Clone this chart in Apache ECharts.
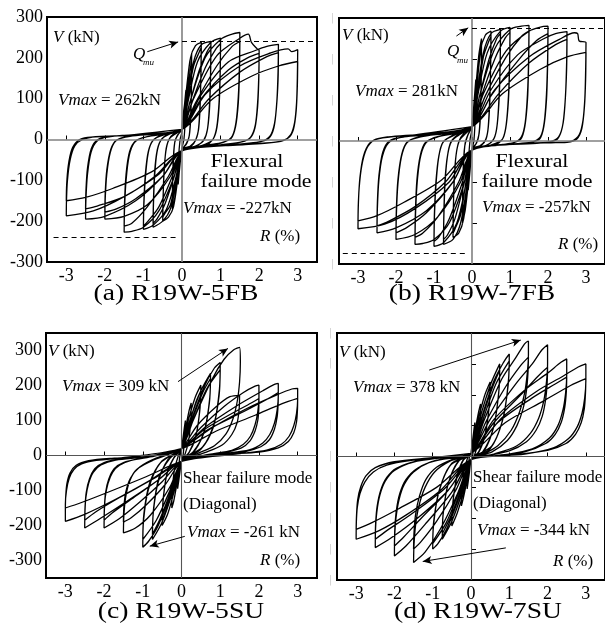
<!DOCTYPE html>
<html><head><meta charset="utf-8">
<script src="https://cdn.jsdelivr.net/npm/echarts@6/dist/echarts.min.js"></script>
<style>html,body{margin:0;padding:0;background:#fff}#c{width:605px;height:637px}</style>
</head><body><div id="c"></div>
<script>
// ---------- tick labels ----------
const rTicks = [-3,-2,-1,0,1,2,3];
const vTicks300 = [-300,-200,-100,0,100,200,300];
const vTicks400 = [-400,-300,-200,-100,0,100,200,300,400];
const captions = ['(a) R19W-5FB','(b) R19W-7FB','(c) R19W-5SU','(d) R19W-7SU'];
const peakA = [262,-227], peakB = [281,-257], peakC = [309,-261], peakD = [378,-344];
const qmuA = [240,-240], qmuB = [275,-274];

// ---------- hysteresis cycles: [R (%), V (kN)] ----------
const cyclesA = [
 [[0,20],[0.05,70],[0.1,120],[0.09,60],[0.05,0],[0,-20],[-0.05,-60],[-0.1,-110],[-0.09,-50],[-0.05,0],[0,20]],
 [[0,25],[0.1,110],[0.2,190],[0.25,210],[0.245,140],[0.23,60],[0.19,10],[0.12,-10],[0,-25],[-0.1,-90],[-0.2,-150],[-0.25,-170],[-0.245,-120],[-0.23,-55],[-0.19,-8],[-0.12,10],[0,25]],
 [[0,25],[0.12,100],[0.22,175],[0.25,195],[0.245,125],[0.22,50],[0.18,5],[0.1,-12],[0,-25],[-0.12,-85],[-0.22,-140],[-0.25,-160],[-0.245,-110],[-0.22,-45],[-0.18,-3],[-0.1,12],[0,25]],
 [[0,25],[0.1,100],[0.22,200],[0.35,230],[0.5,238],[0.49,160],[0.47,80],[0.43,25],[0.36,0],[0.25,-15],[0,-25],[-0.1,-90],[-0.22,-165],[-0.35,-190],[-0.5,-200],[-0.49,-150],[-0.47,-85],[-0.42,-30],[-0.34,0],[-0.2,15],[0,25]],
 [[0,25],[0.15,100],[0.3,180],[0.45,215],[0.5,225],[0.49,150],[0.46,70],[0.42,20],[0.34,-4],[0.2,-17],[0,-25],[-0.15,-90],[-0.3,-160],[-0.45,-182],[-0.5,-190],[-0.49,-140],[-0.46,-75],[-0.41,-22],[-0.32,3],[-0.15,15],[0,25]],
 [[0,25],[0.12,90],[0.3,190],[0.5,232],[0.75,240],[0.74,160],[0.71,80],[0.66,25],[0.57,0],[0.4,-15],[0,-27],[-0.12,-90],[-0.3,-170],[-0.5,-200],[-0.75,-215],[-0.74,-160],[-0.71,-90],[-0.65,-32],[-0.55,-2],[-0.35,13],[0,25]],
 [[0,25],[0.2,90],[0.45,170],[0.65,215],[0.75,230],[0.74,150],[0.71,70],[0.65,20],[0.55,-4],[0.35,-16],[0,-27],[-0.2,-90],[-0.45,-160],[-0.65,-195],[-0.75,-205],[-0.74,-150],[-0.71,-80],[-0.64,-25],[-0.52,2],[-0.3,14],[0,25]],
 [[0,25],[0.15,90],[0.4,190],[0.75,238],[1.0,248],[0.99,170],[0.96,90],[0.9,30],[0.8,0],[0.6,-15],[0,-28],[-0.15,-90],[-0.4,-170],[-0.75,-210],[-1.0,-220],[-0.99,-165],[-0.95,-95],[-0.88,-35],[-0.76,-3],[-0.5,12],[0,25]],
 [[0,25],[0.25,90],[0.6,175],[0.88,222],[1.0,235],[0.99,160],[0.96,80],[0.89,22],[0.77,-3],[0.5,-15],[0,-28],[-0.25,-90],[-0.6,-165],[-0.88,-200],[-1.0,-212],[-0.99,-155],[-0.95,-85],[-0.87,-28],[-0.73,0],[-0.45,12],[0,25]],
 [[0,25],[0.2,90],[0.6,200],[1.0,245],[1.3,258],[1.5,262],[1.49,185],[1.46,105],[1.4,42],[1.3,8],[1.1,-6],[0.7,-15],[0,-28],[-0.2,-90],[-0.6,-175],[-1.0,-215],[-1.3,-225],[-1.5,-227],[-1.49,-170],[-1.45,-100],[-1.37,-40],[-1.24,-8],[-1.0,5],[-0.5,14],[0,25]],
 [[0,25],[0.35,90],[0.9,180],[1.3,228],[1.5,240],[1.49,165],[1.46,90],[1.39,32],[1.27,2],[1.0,-8],[0.5,-16],[0,-28],[-0.35,-90],[-0.9,-165],[-1.3,-205],[-1.5,-212],[-1.49,-155],[-1.45,-85],[-1.36,-30],[-1.2,-3],[-0.9,7],[-0.4,14],[0,25]],
 [[0,25],[0.3,100],[0.9,205],[1.5,248],[1.72,258],[1.8,238],[1.95,222],[2.0,218],[1.99,155],[1.96,90],[1.9,35],[1.78,6],[1.55,-6],[1.0,-13],[0,-28],[-0.3,-90],[-0.9,-160],[-1.5,-188],[-2.0,-195],[-1.99,-145],[-1.95,-85],[-1.86,-32],[-1.72,-4],[-1.45,7],[-0.8,14],[0,25]],
 [[0,25],[0.5,100],[1.2,170],[1.7,200],[2.0,211],[1.99,145],[1.96,80],[1.89,28],[1.76,3],[1.5,-7],[1.0,-13],[0,-28],[-0.5,-90],[-1.2,-145],[-1.7,-170],[-2.0,-178],[-1.99,-130],[-1.95,-75],[-1.85,-25],[-1.7,-2],[-1.35,8],[-0.6,14],[0,25]],
 [[0,25],[0.5,110],[1.2,190],[1.9,218],[2.2,228],[2.5,233],[2.49,165],[2.46,95],[2.4,40],[2.28,8],[2.05,-5],[1.5,-12],[0,-28],[-0.5,-90],[-1.2,-150],[-2.0,-188],[-2.5,-195],[-2.49,-145],[-2.45,-85],[-2.36,-32],[-2.2,-4],[-1.9,7],[-1.0,13],[0,25]],
 [[0,25],[0.7,100],[1.5,165],[2.2,203],[2.5,213],[2.49,145],[2.45,80],[2.38,28],[2.25,3],[2.0,-6],[1.4,-12],[0,-28],[-0.7,-90],[-1.5,-140],[-2.2,-163],[-2.5,-170],[-2.49,-125],[-2.45,-70],[-2.35,-22],[-2.18,0],[-1.8,8],[-0.9,13],[0,25]],
 [[0,25],[0.6,110],[1.5,180],[2.3,212],[2.75,222],[2.85,215],[3.0,220],[2.99,150],[2.97,90],[2.92,42],[2.82,12],[2.62,-3],[2.2,-9],[1.5,-13],[0,-27],[-0.6,-85],[-1.5,-140],[-2.3,-175],[-3.0,-187],[-2.995,-150],[-2.97,-100],[-2.9,-50],[-2.78,-16],[-2.58,0],[-2.2,7],[-1.3,11],[0,25]],
 [[0,25],[0.8,100],[1.8,155],[2.5,180],[3.0,191],[2.99,130],[2.96,70],[2.89,25],[2.76,4],[2.5,-5],[1.8,-11],[0,-27],[-0.8,-80],[-1.8,-120],[-2.5,-142],[-3.0,-150],[-2.99,-110],[-2.95,-65],[-2.86,-25],[-2.7,-3],[-2.45,5],[-1.5,10],[0,25]]
];
const cyclesB = [
 [[0,30],[0.05,90],[0.1,150],[0.09,70],[0.05,0],[0,-20],[-0.05,-70],[-0.1,-120],[-0.09,-50],[-0.05,5],[0,30]],
 [[0,35],[0.08,110],[0.18,210],[0.25,250],[0.245,170],[0.23,80],[0.19,20],[0.12,-5],[0,-20],[-0.08,-90],[-0.18,-170],[-0.25,-200],[-0.245,-140],[-0.23,-65],[-0.19,-12],[-0.11,14],[0,35]],
 [[0,35],[0.1,110],[0.2,200],[0.25,240],[0.245,160],[0.22,70],[0.18,15],[0.1,-8],[0,-20],[-0.1,-90],[-0.2,-160],[-0.25,-190],[-0.245,-130],[-0.22,-55],[-0.18,-5],[-0.1,17],[0,35]],
 [[0,35],[0.1,110],[0.22,220],[0.35,258],[0.5,268],[0.49,185],[0.47,100],[0.43,35],[0.37,5],[0.25,-10],[0,-20],[-0.1,-95],[-0.22,-190],[-0.35,-225],[-0.5,-235],[-0.49,-170],[-0.47,-95],[-0.42,-35],[-0.34,0],[-0.2,20],[0,35]],
 [[0,35],[0.15,110],[0.3,205],[0.45,245],[0.5,255],[0.49,175],[0.46,90],[0.42,28],[0.35,2],[0.2,-12],[0,-20],[-0.15,-95],[-0.3,-180],[-0.45,-215],[-0.5,-225],[-0.49,-160],[-0.46,-85],[-0.41,-28],[-0.32,3],[-0.17,18],[0,35]],
 [[0,35],[0.12,110],[0.3,215],[0.5,262],[0.75,272],[0.74,190],[0.71,105],[0.66,38],[0.58,6],[0.4,-10],[0,-22],[-0.12,-100],[-0.3,-200],[-0.5,-240],[-0.75,-252],[-0.74,-185],[-0.71,-105],[-0.65,-40],[-0.56,-3],[-0.35,17],[0,35]],
 [[0,35],[0.2,110],[0.45,200],[0.65,250],[0.75,262],[0.74,180],[0.71,95],[0.65,30],[0.56,3],[0.35,-12],[0,-22],[-0.2,-100],[-0.45,-190],[-0.65,-230],[-0.75,-240],[-0.74,-175],[-0.71,-95],[-0.64,-33],[-0.53,0],[-0.3,17],[0,35]],
 [[0,35],[0.15,110],[0.4,215],[0.75,268],[1.0,277],[0.99,195],[0.96,110],[0.9,40],[0.81,6],[0.6,-10],[0,-22],[-0.15,-100],[-0.4,-200],[-0.75,-248],[-1.0,-257],[-0.99,-190],[-0.95,-110],[-0.88,-42],[-0.77,-4],[-0.45,17],[0,35]],
 [[0,35],[0.25,110],[0.6,200],[0.88,252],[1.0,265],[0.99,185],[0.96,100],[0.89,32],[0.79,3],[0.5,-10],[0,-22],[-0.25,-100],[-0.6,-190],[-0.88,-235],[-1.0,-245],[-0.99,-180],[-0.95,-100],[-0.87,-35],[-0.74,0],[-0.4,17],[0,35]],
 [[0,35],[0.2,110],[0.6,225],[1.0,272],[1.3,280],[1.5,282],[1.49,200],[1.46,115],[1.4,45],[1.3,10],[1.1,-4],[0.7,-10],[0,-22],[-0.2,-100],[-0.6,-200],[-1.0,-240],[-1.3,-250],[-1.5,-252],[-1.49,-190],[-1.45,-110],[-1.37,-45],[-1.24,-8],[-1.0,8],[-0.5,20],[0,35]],
 [[0,35],[0.35,110],[0.9,205],[1.3,255],[1.5,268],[1.49,185],[1.46,100],[1.39,35],[1.28,4],[1.0,-6],[0.5,-12],[0,-22],[-0.35,-100],[-0.9,-185],[-1.3,-225],[-1.5,-235],[-1.49,-175],[-1.45,-95],[-1.36,-35],[-1.22,-3],[-0.9,10],[-0.4,20],[0,35]],
 [[0,35],[0.3,115],[0.9,220],[1.5,268],[1.8,278],[2.0,280],[1.99,200],[1.96,115],[1.9,45],[1.8,10],[1.55,-3],[1.0,-8],[0,-22],[-0.3,-100],[-0.9,-185],[-1.5,-228],[-2.0,-240],[-1.99,-180],[-1.95,-105],[-1.86,-40],[-1.72,-5],[-1.45,9],[-0.8,20],[0,35]],
 [[0,35],[0.5,110],[1.2,195],[1.7,245],[2.0,262],[1.99,185],[1.96,100],[1.89,35],[1.78,5],[1.5,-4],[1.0,-8],[0,-22],[-0.5,-100],[-1.2,-175],[-1.7,-210],[-2.0,-224],[-1.99,-165],[-1.95,-95],[-1.85,-33],[-1.7,-2],[-1.35,10],[-0.6,20],[0,35]],
 [[0,35],[0.5,125],[1.2,210],[1.9,250],[2.2,262],[2.5,267],[2.49,190],[2.46,110],[2.4,45],[2.28,10],[2.05,-2],[1.5,-6],[0,-22],[-0.5,-100],[-1.2,-170],[-2.0,-212],[-2.5,-224],[-2.49,-165],[-2.45,-95],[-2.36,-38],[-2.2,-5],[-1.9,8],[-1.0,18],[0,35]],
 [[0,35],[0.7,115],[1.5,190],[2.2,235],[2.5,248],[2.49,175],[2.45,95],[2.38,35],[2.25,5],[2.0,-3],[1.4,-6],[0,-22],[-0.7,-100],[-1.5,-160],[-2.2,-196],[-2.5,-207],[-2.49,-150],[-2.45,-85],[-2.35,-28],[-2.18,0],[-1.8,10],[-0.9,18],[0,35]],
 [[0,35],[0.6,125],[1.5,205],[2.3,248],[2.7,264],[2.78,262],[2.82,244],[3.0,240],[2.99,170],[2.97,105],[2.92,50],[2.82,15],[2.62,0],[2.2,-4],[1.5,-6],[0,-22],[-0.6,-100],[-1.5,-165],[-2.3,-203],[-3.0,-214],[-2.995,-170],[-2.97,-115],[-2.9,-60],[-2.78,-20],[-2.58,2],[-2.2,10],[-1.3,17],[0,35]],
 [[0,35],[0.8,115],[1.8,175],[2.5,205],[3.0,216],[2.99,150],[2.96,85],[2.89,30],[2.76,5],[2.5,-3],[1.8,-5],[0,-22],[-0.8,-95],[-1.8,-150],[-2.5,-182],[-3.0,-195],[-2.99,-150],[-2.95,-90],[-2.86,-38],[-2.7,-6],[-2.45,6],[-1.5,15],[0,35]]
];
const cyclesC = [
 [[0,15],[0.05,60],[0.1,100],[0.08,50],[0.04,0],[0,-15],[-0.05,-55],[-0.1,-95],[-0.08,-45],[-0.04,0],[0,15]],
 [[0,18],[0.1,75],[0.2,130],[0.25,150],[0.24,100],[0.18,40],[0.08,0],[0,-15],[-0.1,-70],[-0.2,-130],[-0.25,-150],[-0.24,-100],[-0.18,-40],[-0.08,0],[0,18]],
 [[0,20],[0.15,90],[0.35,165],[0.5,201],[0.48,140],[0.38,60],[0.2,10],[0,-17],[-0.15,-85],[-0.35,-165],[-0.5,-200],[-0.48,-135],[-0.38,-55],[-0.2,-8],[0,20]],
 [[0,20],[0.18,85],[0.38,155],[0.5,185],[0.47,125],[0.36,50],[0.18,5],[0,-17],[-0.18,-80],[-0.38,-150],[-0.5,-185],[-0.47,-120],[-0.36,-45],[-0.18,-3],[0,20]],
 [[0,20],[0.2,95],[0.5,185],[0.75,235],[0.73,165],[0.6,75],[0.35,15],[0,-17],[-0.2,-95],[-0.5,-190],[-0.75,-240],[-0.73,-165],[-0.6,-75],[-0.35,-12],[0,20]],
 [[0,20],[0.25,95],[0.55,180],[0.75,220],[0.72,150],[0.58,65],[0.3,10],[0,-17],[-0.25,-95],[-0.55,-180],[-0.75,-225],[-0.72,-150],[-0.58,-62],[-0.3,-8],[0,20]],
 [[0,20],[0.25,100],[0.6,200],[0.85,250],[1.0,266],[0.98,190],[0.85,95],[0.55,25],[0,-17],[-0.25,-100],[-0.6,-200],[-0.85,-245],[-1.0,-262],[-0.98,-185],[-0.85,-95],[-0.55,-22],[0,20]],
 [[0,20],[0.3,100],[0.65,190],[1.0,245],[0.97,170],[0.82,80],[0.5,18],[0,-17],[-0.3,-100],[-0.65,-185],[-1.0,-240],[-0.97,-165],[-0.82,-78],[-0.5,-15],[0,20]],
 [[0,20],[0.3,100],[0.8,220],[1.1,275],[1.35,302],[1.5,309],[1.52,265],[1.5,210],[1.44,155],[1.33,105],[1.15,62],[0.85,28],[0.4,5],[0,-17],[-0.3,-90],[-0.8,-170],[-1.2,-208],[-1.5,-221],[-1.49,-175],[-1.45,-125],[-1.36,-80],[-1.2,-45],[-0.9,-20],[-0.4,3],[0,20]],
 [[0,20],[0.4,85],[0.9,140],[1.25,168],[1.5,172],[1.49,135],[1.44,95],[1.3,60],[1.05,30],[0.6,8],[0,-17],[-0.4,-80],[-0.9,-140],[-1.3,-178],[-1.5,-190],[-1.49,-150],[-1.44,-105],[-1.32,-65],[-1.1,-35],[-0.7,-12],[0,20]],
 [[0,20],[0.5,80],[1.1,140],[1.6,180],[1.9,198],[2.0,201],[2.0,165],[1.97,125],[1.9,88],[1.78,55],[1.6,32],[1.3,15],[0.7,3],[0,-17],[-0.5,-75],[-1.1,-135],[-1.6,-180],[-2.0,-207],[-1.995,-165],[-1.97,-120],[-1.9,-80],[-1.78,-48],[-1.6,-28],[-1.3,-14],[-0.7,-2],[0,20]],
 [[0,20],[0.6,75],[1.3,120],[1.8,150],[2.0,163],[1.995,130],[1.97,100],[1.9,70],[1.77,42],[1.55,22],[1.1,8],[0,-17],[-0.6,-70],[-1.3,-125],[-1.8,-165],[-2.0,-185],[-1.99,-145],[-1.96,-105],[-1.88,-68],[-1.74,-38],[-1.5,-20],[-0.9,-5],[0,20]],
 [[0,20],[0.6,80],[1.4,140],[2.1,185],[2.4,203],[2.5,206],[2.5,170],[2.47,130],[2.4,92],[2.28,60],[2.1,36],[1.75,16],[1.0,4],[0,-17],[-0.6,-70],[-1.4,-130],[-2.1,-180],[-2.5,-207],[-2.495,-165],[-2.47,-120],[-2.4,-80],[-2.28,-48],[-2.08,-27],[-1.7,-13],[-0.9,-3],[0,20]],
 [[0,20],[0.7,75],[1.6,125],[2.2,160],[2.5,180],[2.495,145],[2.47,110],[2.4,75],[2.27,45],[2.05,25],[1.6,10],[0.8,2],[0,-17],[-0.7,-65],[-1.6,-120],[-2.2,-160],[-2.5,-185],[-2.49,-145],[-2.46,-105],[-2.38,-68],[-2.24,-38],[-2.0,-20],[-1.5,-9],[-0.7,-1],[0,20]],
 [[0,20],[0.8,80],[1.7,135],[2.5,175],[2.85,190],[3.0,192],[3.0,160],[2.97,120],[2.9,85],[2.78,55],[2.58,32],[2.2,15],[1.4,4],[0,-17],[-0.8,-70],[-1.7,-125],[-2.5,-168],[-3.0,-188],[-3.0,-140],[-2.97,-100],[-2.9,-65],[-2.78,-40],[-2.58,-24],[-2.2,-14],[-1.4,-5],[0,20]],
 [[0,20],[0.9,70],[1.9,115],[2.6,148],[3.0,163],[2.995,130],[2.97,95],[2.9,65],[2.76,40],[2.5,22],[2.0,10],[1.0,2],[0,-17],[-0.9,-60],[-1.9,-105],[-2.6,-135],[-3.0,-150],[-2.99,-115],[-2.96,-80],[-2.88,-50],[-2.72,-28],[-2.4,-15],[-1.8,-8],[-0.8,-2],[0,20]]
];
const cyclesD = [
 [[0,10],[0.05,60],[0.1,110],[0.08,55],[0.04,0],[0,-10],[-0.05,-60],[-0.1,-105],[-0.08,-50],[-0.04,0],[0,10]],
 [[0,10],[0.1,80],[0.2,145],[0.25,170],[0.24,115],[0.18,45],[0.08,0],[0,-10],[-0.1,-75],[-0.2,-135],[-0.25,-160],[-0.24,-110],[-0.18,-45],[-0.08,-2],[0,10]],
 [[0,10],[0.15,100],[0.35,195],[0.5,241],[0.48,170],[0.38,80],[0.2,15],[0,-10],[-0.15,-95],[-0.35,-180],[-0.5,-225],[-0.48,-160],[-0.38,-75],[-0.2,-12],[0,10]],
 [[0,10],[0.18,100],[0.38,185],[0.5,225],[0.47,155],[0.36,65],[0.18,8],[0,-10],[-0.18,-95],[-0.38,-170],[-0.5,-210],[-0.47,-145],[-0.36,-60],[-0.18,-6],[0,10]],
 [[0,10],[0.2,110],[0.5,230],[0.75,300],[0.73,215],[0.6,100],[0.35,20],[0,-10],[-0.2,-105],[-0.5,-210],[-0.75,-268],[-0.73,-190],[-0.6,-90],[-0.35,-18],[0,10]],
 [[0,10],[0.25,110],[0.55,220],[0.75,280],[0.72,200],[0.58,90],[0.3,14],[0,-10],[-0.25,-105],[-0.55,-200],[-0.75,-250],[-0.72,-175],[-0.58,-82],[-0.3,-12],[0,10]],
 [[0,10],[0.25,115],[0.6,245],[0.85,305],[1.0,332],[0.98,250],[0.85,130],[0.55,35],[0,-10],[-0.25,-110],[-0.6,-225],[-0.85,-280],[-1.0,-300],[-0.98,-225],[-0.85,-120],[-0.55,-30],[0,10]],
 [[0,10],[0.3,115],[0.65,235],[1.0,310],[0.97,230],[0.82,115],[0.5,25],[0,-10],[-0.3,-110],[-0.65,-215],[-1.0,-282],[-0.97,-205],[-0.82,-105],[-0.5,-22],[0,10]],
 [[0,10],[0.35,120],[0.8,250],[1.17,320],[1.4,365],[1.5,375],[1.5,330],[1.47,270],[1.4,205],[1.27,145],[1.05,85],[0.7,35],[0.3,6],[0,-10],[-0.35,-120],[-0.8,-235],[-1.2,-310],[-1.5,-343],[-1.49,-290],[-1.45,-225],[-1.36,-160],[-1.2,-100],[-0.95,-50],[-0.55,-15],[0,10]],
 [[0,10],[0.4,115],[0.9,225],[1.3,295],[1.5,322],[1.49,275],[1.45,215],[1.36,155],[1.2,100],[0.95,52],[0.55,15],[0,-10],[-0.4,-110],[-0.9,-210],[-1.3,-275],[-1.5,-300],[-1.49,-250],[-1.45,-190],[-1.35,-130],[-1.18,-75],[-0.9,-35],[-0.45,-8],[0,10]],
 [[0,10],[0.5,120],[1.2,240],[1.6,300],[1.85,345],[2.0,362],[2.0,300],[1.97,240],[1.9,180],[1.77,125],[1.55,75],[1.2,35],[0.6,8],[0,-10],[-0.5,-115],[-1.2,-220],[-1.7,-290],[-2.0,-322],[-1.995,-265],[-1.96,-200],[-1.88,-140],[-1.74,-90],[-1.5,-50],[-1.1,-20],[-0.5,-3],[0,10]],
 [[0,10],[0.6,110],[1.3,200],[1.75,260],[2.0,289],[1.99,240],[1.95,185],[1.86,130],[1.7,85],[1.45,48],[1.0,18],[0.4,2],[0,-10],[-0.6,-110],[-1.3,-200],[-1.75,-260],[-2.0,-290],[-1.99,-235],[-1.95,-175],[-1.86,-120],[-1.7,-75],[-1.4,-38],[-0.9,-12],[0,10]],
 [[0,10],[0.6,120],[1.4,215],[2.0,270],[2.35,305],[2.5,316],[2.5,265],[2.47,205],[2.4,150],[2.27,100],[2.05,60],[1.6,25],[0.8,4],[0,-10],[-0.6,-110],[-1.4,-200],[-2.1,-265],[-2.5,-295],[-2.495,-240],[-2.46,-180],[-2.38,-125],[-2.24,-80],[-2.0,-45],[-1.5,-18],[-0.7,-3],[0,10]],
 [[0,10],[0.7,110],[1.6,190],[2.2,235],[2.5,257],[2.49,210],[2.45,160],[2.36,112],[2.2,72],[1.95,42],[1.4,15],[0.6,2],[0,-10],[-0.7,-105],[-1.6,-190],[-2.2,-240],[-2.5,-268],[-2.49,-215],[-2.45,-160],[-2.36,-110],[-2.2,-68],[-1.95,-38],[-1.4,-14],[-0.6,-2],[0,10]],
 [[0,10],[0.8,125],[1.7,210],[2.4,260],[2.8,290],[3.0,300],[3.0,245],[2.97,190],[2.9,140],[2.77,95],[2.55,58],[2.15,28],[1.4,8],[0,-10],[-0.8,-110],[-1.7,-190],[-2.4,-240],[-3.0,-268],[-2.995,-215],[-2.97,-165],[-2.9,-120],[-2.77,-82],[-2.55,-50],[-2.2,-28],[-1.6,-13],[-0.7,-3],[0,10]],
 [[0,10],[0.9,110],[1.9,180],[2.6,230],[3.0,252],[2.99,205],[2.96,155],[2.88,110],[2.73,72],[2.48,42],[2.0,20],[1.0,4],[0,-10],[-0.9,-100],[-1.9,-170],[-2.6,-215],[-3.0,-236],[-2.99,-190],[-2.96,-140],[-2.88,-98],[-2.74,-62],[-2.5,-36],[-2.0,-17],[-1.0,-4],[0,10]]
];

// ---------- layout ----------
const FONT = 'Liberation Serif';
const grids = [
  {left:47, top:17, width:270, height:245},
  {left:339, top:18, width:268, height:246},
  {left:46, top:333, width:271, height:245},
  {left:337, top:333, width:269, height:247}
];
const yRanges = [[-300,300],[-300,300],[-350,350],[-400,400]];

const chart = echarts.init(document.getElementById('c'), null, {renderer:'canvas'});

function xAxis(i){
  return {gridIndex:i, type:'value', min:-3.5, max:3.5,
    splitLine:{show:false}, axisLine:{show:false},
    axisTick:{show:true, inside:true, length:4, lineStyle:{color:'#000', width:1}, customValues:rTicks},
    axisLabel:{customValues:rTicks, fontFamily:FONT, fontSize:18, color:'#000', margin:5, formatter:v=>String(v)}};
}
function yAxis(i){
  const ghost = (i===1 || i===3);
  const labVals = ghost ? (i===3 ? vTicks400 : vTicks300) : vTicks300;
  return {gridIndex:i, type:'value', min:yRanges[i][0], max:yRanges[i][1],
    splitLine:{show:false}, axisLine:{show:false},
    axisTick:{show:ghost, inside:true, length:5, lineStyle:{color:'#000', width:1},
      customValues: i===3 ? [-300,-200,-100,100,200,300] : [-200,-100,100,200]},
    axisLabel: ghost
      ? {customValues:labVals, formatter:()=>'|', color:'#cfcfcf', fontSize:10, fontFamily:'DejaVu Sans', margin:5}
      : {customValues:labVals, fontFamily:FONT, fontSize:18, color:'#000', margin:4, formatter:v=>String(v)}};
}

function seg(a, b, style, arrow){
  return [
    {coord:a, symbol:'none', lineStyle:style},
    {coord:b, symbol: arrow ? 'arrow' : 'none', symbolSize: arrow ? [6,9] : 0, lineStyle:style, itemStyle:{color:'#000'}}
  ];
}
const dash = {type:[5,4], color:'#000', width:1.1};
const arr = {type:'solid', color:'#000', width:1};

const extraMarks = [
  [ seg([0,qmuA[0]],[3.5,qmuA[0]],dash,false), seg([-3.33,qmuA[1]],[-0.13,qmuA[1]],dash,false),
    seg([-0.9,215],[-0.1,239],arr,true) ],
  [ seg([0,qmuB[0]],[3.5,qmuB[0]],dash,false), seg([-3.4,qmuB[1]],[-0.12,qmuB[1]],dash,false),
    seg([-0.41,256],[-0.1,276],arr,true) ],
  [ seg([-0.09,211],[1.2,306],arr,true), seg([0.085,-231],[-0.82,-259],arr,true) ],
  [ seg([-1.09,280],[1.3,377],arr,true), seg([0.91,-296],[-1.26,-340],arr,true) ]
];

const allCycles = [cyclesA, cyclesB, cyclesC, cyclesD];
const series = allCycles.map((cyc, i) => ({
  type:'line', xAxisIndex:i, yAxisIndex:i, data: cyc.flat(),
  showSymbol:false, smooth:0.3, animation:false, silent:true,
  lineStyle:{color:'#000', width:1.3},
  markLine:{silent:true, animation:false, symbol:'none', label:{show:false},
    lineStyle:{color: i<2 ? '#808080' : '#555', width: i<2 ? 1.6 : 1.1, type:'solid'},
    emphasis:{disabled:true},
    data:[{xAxis:0},{yAxis:0}].concat(extraMarks[i])}
}));

function txt(x, y, text, opts){
  opts = opts || {};
  const fs = opts.fs || 17;
  return {type:'text', x:x, y:y, scaleX: opts.sx || 1, z:100,
    style:{text:text, fill:'#000', fontSize:fs, fontFamily:FONT, fontStyle: opts.italic ? 'italic' : 'normal',
      align: opts.align || 'left', textAlign: opts.align || 'left',
      verticalAlign:'middle', textVerticalAlign:'middle',
      rich:{i:{fontStyle:'italic', fontSize:fs, fontFamily:FONT, fill:'#000'},
            n:{fontSize:fs, fontFamily:FONT, fill:'#000'}}}};
}
const graphics = [
  // (a)
  txt(53,38,'{i|V}{n| (kN)}'), txt(133,55,'Q',{italic:true}), txt(143,63,'mu',{italic:true, fs:9}),
  txt(58,101,'{i|Vmax}{n| = '+peakA[0]+'kN}'),
  txt(247,162,'Flexural',{fs:19, align:'center', sx:1.15}), txt(256,182,'failure mode',{fs:19, align:'center', sx:1.15}),
  txt(183,209,'{i|Vmax}{n| = '+peakA[1]+'kN}'), txt(260,237,'{i|R}{n| (%)}'),
  // (b)
  txt(342,36,'{i|V}{n| (kN)}'), txt(447,52,'Q',{italic:true}), txt(457,61,'mu',{italic:true, fs:9}),
  txt(355,92,'{i|Vmax}{n| = '+peakB[0]+'kN}'),
  txt(532,162,'Flexural',{fs:19, align:'center', sx:1.15}), txt(537,182,'failure mode',{fs:19, align:'center', sx:1.15}),
  txt(482,208,'{i|Vmax}{n| = '+peakB[1]+'kN}'), txt(558,245,'{i|R}{n| (%)}'),
  // (c)
  txt(48,352,'{i|V}{n| (kN)}'), txt(62,387,'{i|Vmax}{n| = '+peakC[0]+' kN}'),
  txt(183,479,'Shear failure mode'), txt(183,505,'(Diagonal)'),
  txt(187,533,'{i|Vmax}{n| = '+peakC[1]+' kN}'), txt(260,561,'{i|R}{n| (%)}'),
  // (d)
  txt(339,353,'{i|V}{n| (kN)}'), txt(353,388,'{i|Vmax}{n| = '+peakD[0]+' kN}'),
  txt(473,478,'Shear failure mode'), txt(473,504,'(Diagonal)'),
  txt(477,531,'{i|Vmax}{n| = '+peakD[1]+' kN}'), txt(553,562,'{i|R}{n| (%)}'),
  // captions
  txt(176,294,captions[0],{fs:23, align:'center', sx:1.2}),
  txt(472,294,captions[1],{fs:23, align:'center', sx:1.2}),
  txt(181,612,captions[2],{fs:23, align:'center', sx:1.2}),
  txt(478,612,captions[3],{fs:23, align:'center', sx:1.2})
];

chart.setOption({
  animation:false,
  backgroundColor:'#fff',
  grid: grids.map(g => Object.assign({show:true, borderColor:'#000', borderWidth:2, backgroundColor:'transparent', containLabel:false}, g)),
  xAxis: [0,1,2,3].map(xAxis),
  yAxis: [0,1,2,3].map(yAxis),
  series: series,
  graphic: graphics
});
</script></body></html>
